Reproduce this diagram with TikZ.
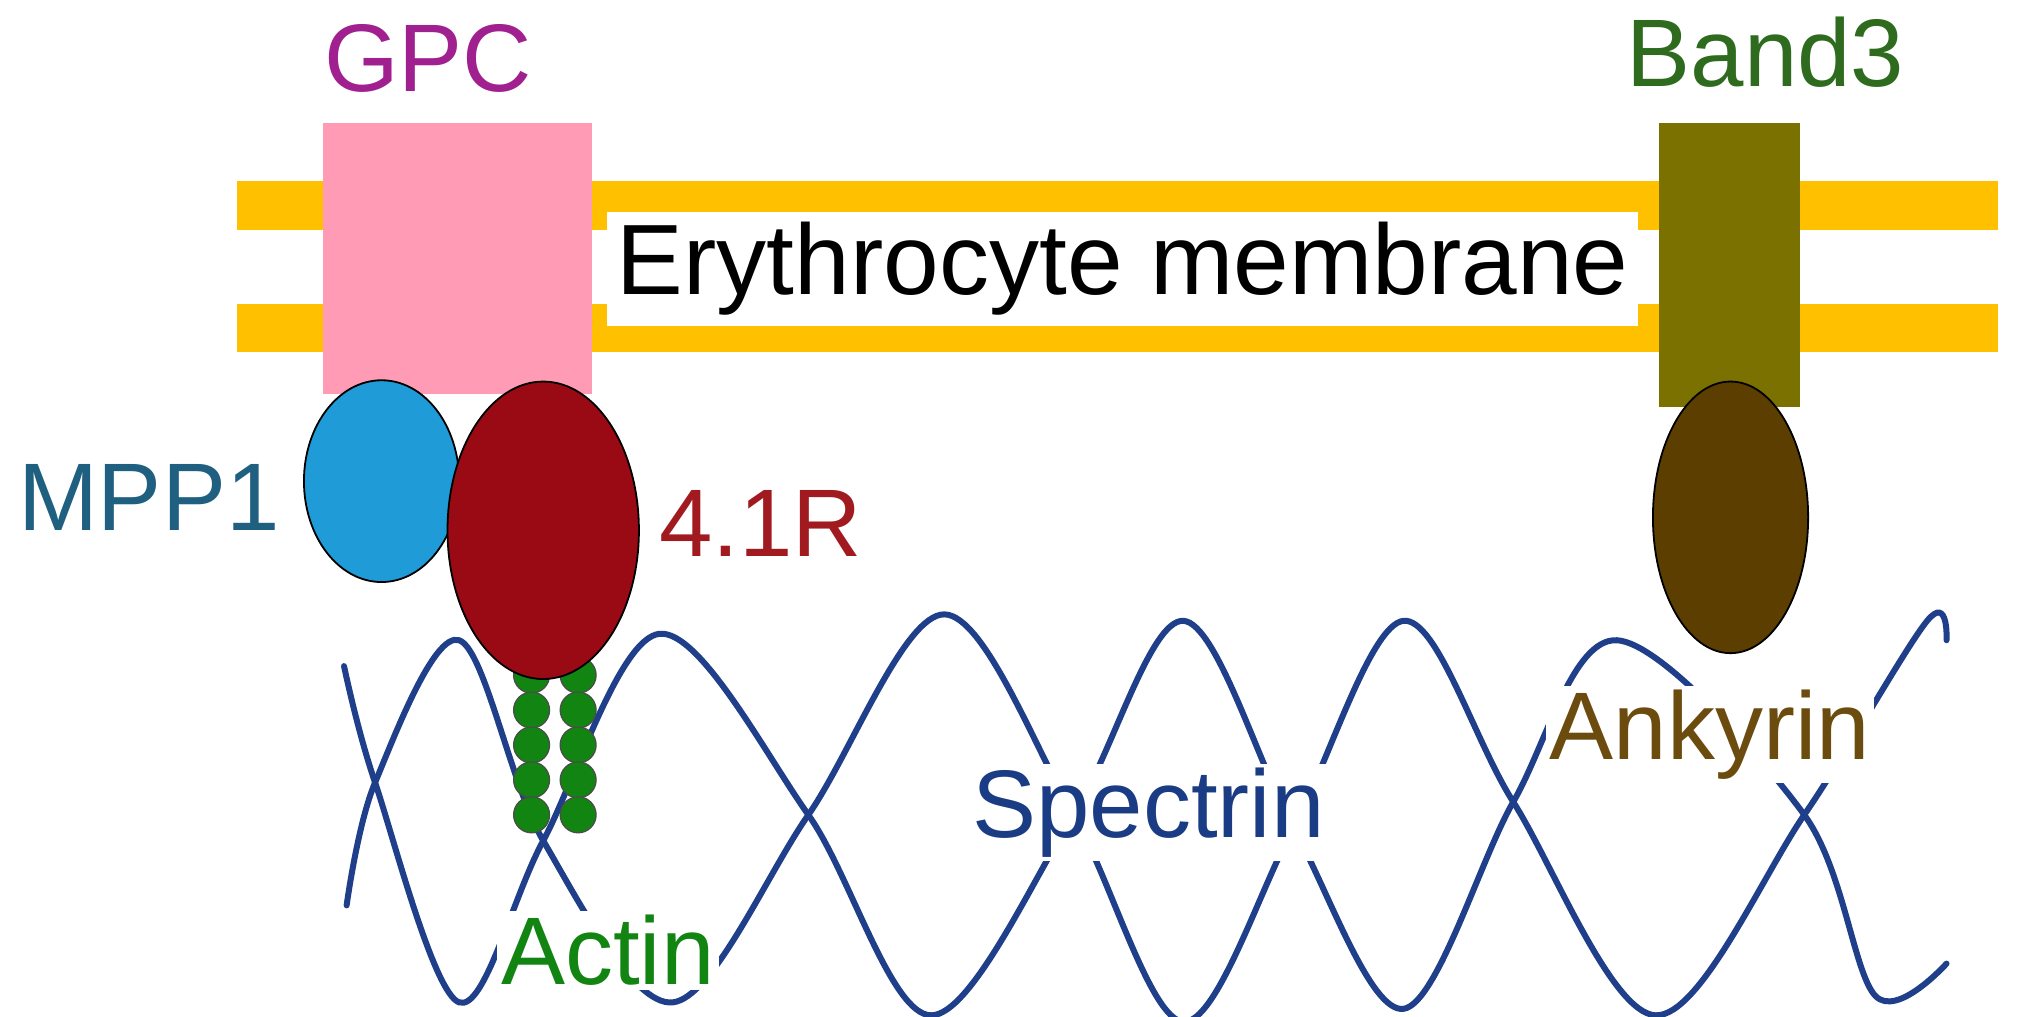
\documentclass[tikz,border=0pt]{standalone}
\usepackage{fontspec}
\setmainfont{Liberation Sans}
\begin{document}
\begin{tikzpicture}[x=0.6467pt,y=-0.6467pt,
  lbl/.style={font=\fontsize{48}{56}\selectfont, inner sep=0pt},
  wlbl/.style={lbl, fill=white, inner sep=2pt},
  spec/.style={draw=specblue, line width=3pt, line cap=round},
  blob/.style={draw=black, line width=0.9pt},
  act/.style={circle, fill=actgreen, draw=black!70, line width=0.6pt, minimum size=18pt, inner sep=0pt}]
\definecolor{memb}{HTML}{FFC000}
\definecolor{gpc}{HTML}{FF9BB5}
\definecolor{band}{HTML}{7A7100}
\definecolor{mpp}{HTML}{1F9BD7}
\definecolor{fr}{HTML}{9A0A14}
\definecolor{ank}{HTML}{5C3F00}
\definecolor{actgreen}{HTML}{128412}
\definecolor{specblue}{HTML}{1F3F8A}
\useasboundingbox (0,0) rectangle (1568,786);
\fill[white] (0,0) rectangle (1568,786);
% membrane
\fill[memb] (183,140) rectangle (1545,178);
\fill[memb] (183,235) rectangle (1545,272);
\node[lbl, fill=white, inner sep=5pt, font=\fontsize{50}{58}\selectfont] (em) at (868,208) {Erythrocyte membrane};
% proteins in membrane
\fill[gpc] (250,95) rectangle (458,305);
\node[lbl, text={rgb,255:red,160;green,32;blue,143}] (gpcl) at (331,45) {GPC};
\fill[band] (1283,95) rectangle (1392,315);
\node[lbl, text={rgb,255:red,46;green,107;blue,30}] (b3l) at (1365,40) {Band3};
% spectrin
\draw[spec] plot[smooth, tension=0.55] coordinates {(266,515) (290,605) (355,775) (420,650) (510,490) (625,630) (720,785) (830,630) (915,480) (1000,640) (1085,780) (1170,620) (1250,495) (1395,630) (1450,770) (1505,745)};
\draw[spec] plot[smooth, tension=0.55] coordinates {(268,700) (290,605) (355,495) (420,650) (520,775) (625,630) (730,475) (830,630) (915,790) (1000,640) (1085,480) (1170,620) (1280,785) (1395,630) (1490,480) (1505,495)};
\node[wlbl, text={rgb,255:red,26;green,60;blue,132}] (spl) at (888,628) {Spectrin};
% actin
\foreach \i/\y in {1/522,2/549,3/576,4/603,5/630}{
  \node[act] (al\i) at (411,\y) {};
  \node[act] (ar\i) at (447,\y) {};
}
\node[wlbl, text=actgreen] (actl) at (470,735) {Actin};
% MPP1 and 4.1R
\draw[blob, fill=mpp] (295,372) ellipse [x radius=60, y radius=78];
\node[lbl, text={rgb,255:red,31;green,95;blue,128}] (mppl) at (115,385) {MPP1};
\draw[blob, fill=fr] (420,410) ellipse [x radius=74, y radius=115];
\node[lbl, text={rgb,255:red,160;green,26;blue,32}] (frl) at (588,405) {4.1R};
% ankyrin
\draw[blob, fill=ank] (1338,400) ellipse [x radius=60, y radius=105];
\node[wlbl, text={rgb,255:red,107;green,76;blue,14}] (ankl) at (1322,568) {Ankyrin};
\end{tikzpicture}
\end{document}
